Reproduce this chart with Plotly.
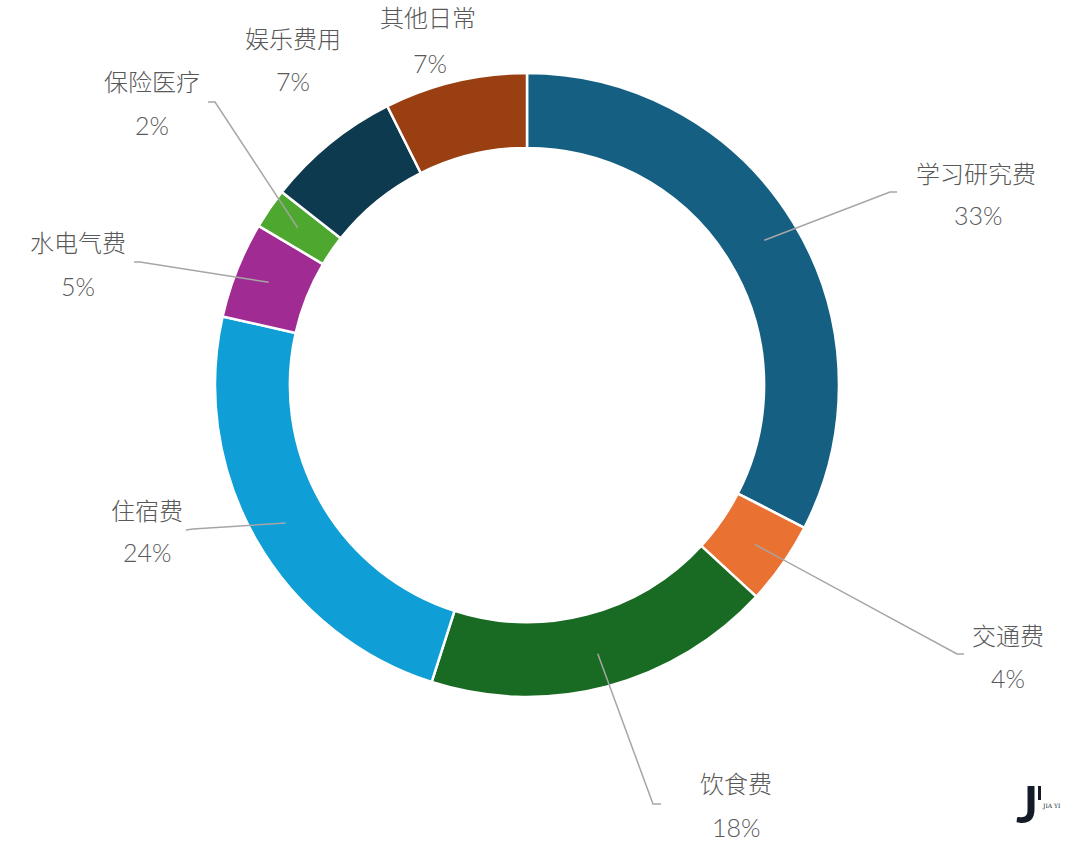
import math
import plotly.graph_objects as go

# ---- data ----
categories = ["学习研究费", "交通费", "饮食费", "住宿费", "水电气费", "保险医疗", "娱乐费用", "其他日常"]
values = [32.6, 4.3, 18.1, 23.6, 5.0, 2.1, 7.0, 7.4]
colors = ["#156082", "#E97132", "#196B24", "#0F9ED5", "#A02B93", "#4EA72E", "#0E3A4F", "#9A3F12"]

# ---- layout / style ----
W, H = 1080, 855
CX, CY, R = 527, 385, 312
HOLE = 0.76
R_MID = 278
TXT = "#595959"
LINE = "#A6A6A6"

# label text centres (px): (name line centre, percent line centre)
label_pos = [
    ((976, 172), (978, 215)),
    ((1008, 634), (1008, 678)),
    ((736, 782), (736, 827)),
    ((147, 509), (147, 552)),
    ((78, 242), (78, 286)),
    ((152, 80), (152, 125)),
    ((293, 38), (293, 81)),
    ((428, 17), (430, 63)),
]
# leader elbow and end (px); None = no leader line
leaders = [
    ((890, 192), (897, 192)),
    ((957, 654), (964, 654)),
    ((653, 804), (661, 804)),
    ((193, 529), (186, 530)),
    ((140, 262), (134, 262)),
    ((215, 102), (208, 102)),
    None,
    None,
]


def px(x, y):
    return x / W, 1 - y / H


d0 = px(CX - R, CY + R)
d1 = px(CX + R, CY - R)

fig = go.Figure(
    go.Pie(
        labels=categories,
        values=values,
        sort=False,
        direction="clockwise",
        rotation=0,
        hole=HOLE,
        textinfo="none",
        marker=dict(colors=colors, line=dict(color="white", width=2.5)),
        domain=dict(x=[d0[0], d1[0]], y=[d0[1], d1[1]]),
        hoverinfo="label+percent",
    )
)

total = sum(values)
cum = 0.0
annotations = []
shapes = []
for i, (cat, v) in enumerate(zip(categories, values)):
    theta = 2 * math.pi * (cum + v / 2) / total
    cum += v
    pct = round(100 * v / total)
    (nx, ny), (qx, qy) = label_pos[i]
    x, y = px(nx, ny)
    annotations.append(dict(x=x, y=y, xref="paper", yref="paper", text=cat, showarrow=False,
                            font=dict(family="Noto Sans CJK SC", size=24, color=TXT, weight=300),
                            xanchor="center", yanchor="middle"))
    x, y = px(qx, qy)
    annotations.append(dict(x=x, y=y, xref="paper", yref="paper", text=f"{pct}%", showarrow=False,
                            font=dict(family="Lato, Noto Sans", size=25, color=TXT, weight=300),
                            xanchor="center", yanchor="middle"))
    if leaders[i] is not None:
        rx = CX + R_MID * math.sin(theta)
        ry = CY - R_MID * math.cos(theta)
        (ex, ey), (fx, fy) = leaders[i]
        p0 = px(rx, ry)
        p1 = px(ex, ey)
        p2 = px(fx, fy)
        shapes.append(dict(type="path", xref="paper", yref="paper",
                           path=f"M {p0[0]},{p0[1]} L {p1[0]},{p1[1]} L {p2[0]},{p2[1]}",
                           line=dict(color=LINE, width=1.5)))

# logo "J'" + JIA YI
lx, ly = px(1027, 803)
annotations.append(dict(x=lx, y=ly, xref="paper", yref="paper", text="<b>J</b>", showarrow=False,
                        xanchor="center", yanchor="middle",
                        font=dict(family="Lato", size=52, color="#131C28")))
b0 = px(1038, 786)
b1 = px(1041, 800)
shapes.append(dict(type="rect", xref="paper", yref="paper", x0=b0[0], y0=b0[1], x1=b1[0], y1=b1[1],
                   fillcolor="#131C28", line=dict(width=0)))
lx, ly = px(1051, 806)
annotations.append(dict(x=lx, y=ly, xref="paper", yref="paper", text="JIA YI", showarrow=False,
                        xanchor="center", yanchor="middle",
                        font=dict(family="DejaVu Serif", size=6, color="#131C28")))

fig.update_layout(
    width=W, height=H,
    margin=dict(l=0, r=0, t=0, b=0),
    paper_bgcolor="white", plot_bgcolor="white",
    showlegend=False,
    annotations=annotations,
    shapes=shapes,
)

fig.write_html("out.html", config={"displayModeBar": False},
               post_script="document.body.style.margin='0';document.body.style.overflow='hidden';")
